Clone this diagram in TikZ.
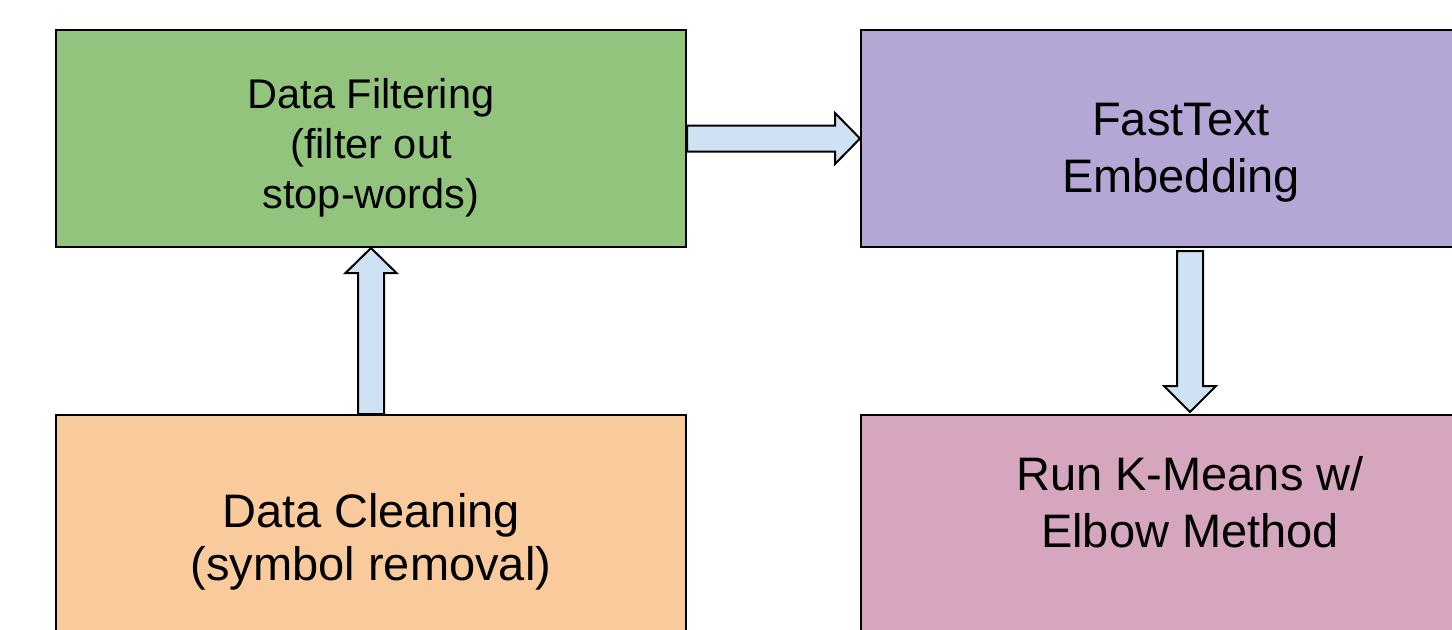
\documentclass[tikz,border=0pt]{standalone}
\usepackage{fontspec}
\setmainfont{Liberation Sans}
\usetikzlibrary{calc}
\definecolor{filtgreen}{HTML}{93C47D}
\definecolor{embedpurple}{HTML}{B4A7D6}
\definecolor{cleanorange}{HTML}{F9CB9C}
\definecolor{kmeanspink}{HTML}{D5A6BD}
\definecolor{flowblue}{HTML}{CFE2F3}

\begin{document}
\begin{tikzpicture}[x=0.5pt, y=-0.5pt,
  stage/.style={draw, line width=1pt, inner sep=0pt, align=center,
    minimum width=315pt, minimum height=108.5pt},
  flow/.style={draw, line width=1pt, fill=flowblue, line join=miter}]
\useasboundingbox (0,0) rectangle (1452,629);
\clip (0,0) rectangle (1452,629);

\node[stage, fill=filtgreen, font=\fontsize{20.75}{25}\selectfont,
  text height=74.5pt, text depth=5pt] (filter) at (371,138.5)
  {Data Filtering\\(filter out\\stop-words)};
\node[stage, fill=embedpurple, minimum width=320pt, font=\fontsize{23.5}{28.5}\selectfont,
  text height=58.5pt, text depth=5pt] (embed) at (1181,138.5)
  {FastText\\Embedding};
\node[stage, fill=cleanorange, minimum height=142.5pt, font=\fontsize{23.5}{26.5}\selectfont,
  text height=27.5pt, text depth=5pt] (clean) at (371,557.5)
  {Data Cleaning\\(symbol removal)};
\node[stage, fill=kmeanspink, minimum width=329pt, minimum height=142.5pt,
  font=\fontsize{23.5}{28.5}\selectfont,
  text height=5pt, text depth=15.5pt] (kmeans) at (1190,557.5)
  {Run K-Means w/\\Elbow Method};

\draw[flow] ($(clean.north)+(-13,0)$) -- ($(filter.south)+(-13,25)$) -- ($(filter.south)+(-25.5,25)$)
  -- (filter.south) -- ($(filter.south)+(25.5,25)$) -- ($(filter.south)+(13,25)$)
  -- ($(clean.north)+(13,0)$) -- cycle;
\draw[flow] ($(filter.east)+(0,-13)$) -- ($(embed.west)+(-25,-13)$) -- ($(embed.west)+(-25,-25.5)$)
  -- (embed.west) -- ($(embed.west)+(-25,25.5)$) -- ($(embed.west)+(-25,13)$)
  -- ($(filter.east)+(0,13)$) -- cycle;
\draw[flow] ($(kmeans.north |- embed.south)+(-13,3)$) -- ($(kmeans.north)+(-13,-28)$)
  -- ($(kmeans.north)+(-26,-28)$) -- ($(kmeans.north)+(0,-2)$) -- ($(kmeans.north)+(26,-28)$)
  -- ($(kmeans.north)+(13,-28)$) -- ($(kmeans.north |- embed.south)+(13,3)$) -- cycle;

\end{tikzpicture}
\end{document}
